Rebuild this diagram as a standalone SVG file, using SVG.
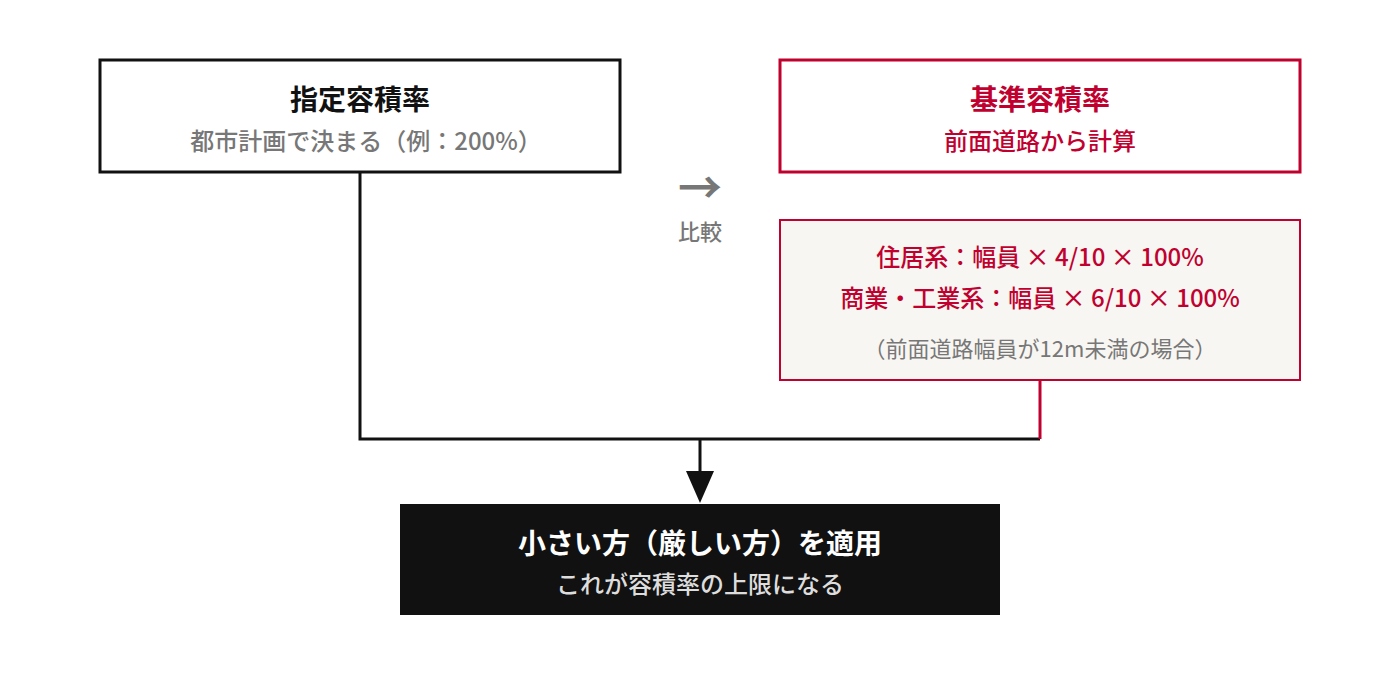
<svg xmlns="http://www.w3.org/2000/svg" width="1400" height="680" viewBox="0 0 1400 680">
<style>
text{font-family:"Noto Sans CJK JP","Noto Sans",sans-serif;text-anchor:middle}
.t{font-size:28px;font-weight:700}
.s{font-size:24px;font-weight:500}
.f{font-size:24px;font-weight:500;fill:#c0002f}
.n{font-size:22px;fill:#777}
</style>
<rect width="1400" height="680" fill="#fff"/>
<g id="connectors" fill="none" stroke-width="3">
<path d="M360 172V439H1040" stroke="#111"/>
<path d="M1040 380V439" stroke="#c0002f"/>
<path d="M700 439V472" stroke="#111"/>
<polygon points="686,471 714,471 700,503" fill="#111" stroke="none"/>
</g>
<g id="shitei">
<rect x="100" y="60" width="520" height="112" fill="#fff" stroke="#111" stroke-width="3"/>
<text x="360" y="110" class="t" fill="#111">指定容積率</text>
<text x="366" y="150" class="s" fill="#777">都市計画で決まる（例：200%）</text>
</g>
<g id="kijun">
<rect x="780" y="60" width="520" height="112" fill="#fff" stroke="#c0002f" stroke-width="3"/>
<text x="1040" y="110" class="t" fill="#c0002f">基準容積率</text>
<text x="1040" y="150" class="s" fill="#c0002f">前面道路から計算</text>
</g>
<g id="compare">
<text x="700" y="204" font-size="44" font-weight="700" fill="#777">→</text>
<text x="700" y="240" font-size="22" font-weight="500" fill="#777">比較</text>
</g>
<g id="formula">
<rect x="780" y="220" width="520" height="160" fill="#f8f6f2" stroke="#c0002f" stroke-width="2"/>
<text x="1040" y="266" class="f">住居系：幅員 × 4/10 × 100%</text>
<text x="1040" y="307" class="f">商業・工業系：幅員 × 6/10 × 100%</text>
<text x="1040" y="357" class="n">（前面道路幅員が12m未満の場合）</text>
</g>
<g id="result">
<rect x="400" y="504" width="600" height="111" fill="#111"/>
<text x="700" y="554" class="t" fill="#fff">小さい方（厳しい方）を適用</text>
<text x="700" y="593" class="s" fill="#ddd">これが容積率の上限になる</text>
</g>
</svg>
